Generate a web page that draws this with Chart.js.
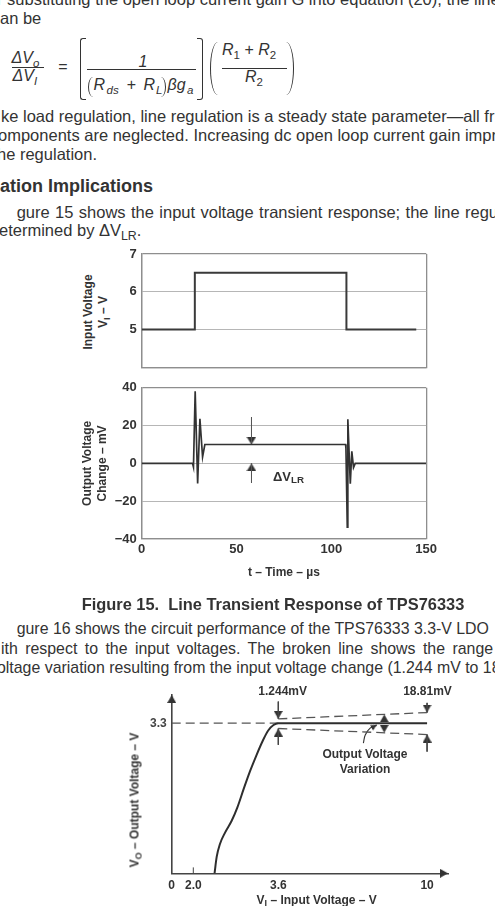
<!DOCTYPE html>
<html>
<head>
<meta charset="utf-8">
<script src="https://cdn.jsdelivr.net/npm/chart.js@4.4.1/dist/chart.umd.min.js"></script>
<style>
body { margin: 0; background: #fff; }
#page { position: relative; width: 495px; height: 906px; overflow: hidden; background: #fff; color: #333; font-family: 'Liberation Sans', Arial, sans-serif; }
.ln { position: absolute; white-space: nowrap; font-size: 16.5px; line-height: 18.4px; }
.low { font-size: 15.9px; }
.eq { position: absolute; white-space: nowrap; font-size: 16px; line-height: 16px; font-style: italic; }
.eq sub { font-size: 11.5px; vertical-align: -3.5px; line-height: 0; }
.eq .up { font-style: normal; }
.bar { position: absolute; height: 1.2px; background: #333; }
.brk { position: absolute; border: 1.5px solid #333; }
.lab { position: absolute; white-space: nowrap; font-weight: bold; font-size: 12px; line-height: 15px; text-align: center; transform: translate(-50%, -50%); }
.rot { transform: translate(-50%, -50%) rotate(-90deg); }
.lab sub, .ln sub { font-size: 0.75em; vertical-align: -0.3em; line-height: 0; }
canvas { position: absolute; }
</style>
</head>
<body>
<div id="page">
  <div class="ln" style="left:-3px;top:-9.9px">r substituting the open loop current gain G into equation (20), the line re</div>
  <div class="ln" style="left:0px;top:9.1px">an be</div>

  <!-- equation -->
  <div class="eq" style="left:11.5px;top:49.8px">ΔV<sub>o</sub></div>
  <div class="bar" style="left:12px;top:67px;width:32px"></div>
  <div class="eq" style="left:12.5px;top:68.2px">ΔV<sub>I</sub></div>
  <div class="eq up" style="left:58px;top:58.5px">=</div>
  <div class="brk" style="left:80px;top:38px;width:5px;height:60px;border-right:none;border-radius:3px 0 0 3px"></div>
  <div class="eq up" style="left:138.5px;top:53.5px">1</div>
  <div class="bar" style="left:87px;top:68.5px;width:109px"></div>
  <div class="brk" style="left:88px;top:77px;width:4px;height:20px;border-width:0 0 0 1.3px;border-radius:5px 0 0 5px / 10px 0 0 10px"></div>
  <div class="eq" style="left:93.5px;top:76.5px">R</div>
  <div class="eq" style="left:106.5px;top:76.5px"><sub>ds</sub></div>
  <div class="eq up" style="left:126.5px;top:76.5px">+</div>
  <div class="eq" style="left:143.5px;top:76.5px">R</div>
  <div class="eq" style="left:156px;top:76.5px"><sub>L</sub></div>
  <div class="brk" style="left:161px;top:77px;width:4px;height:20px;border-width:0 1.3px 0 0;border-radius:0 5px 5px 0 / 0 10px 10px 0"></div>
  <div class="eq" style="left:167.5px;top:76.5px">βg</div>
  <div class="eq" style="left:187px;top:76.5px"><sub>a</sub></div>
  <div class="brk" style="left:197px;top:38px;width:5px;height:60px;border-left:none;border-radius:0 3px 3px 0"></div>
  <div class="brk" style="left:210px;top:42px;width:7px;height:53px;border-width:0 0 0 1.5px;border-radius:8px 0 0 8px / 27px 0 0 27px"></div>
  <div class="eq" style="left:222px;top:41.5px">R<sub class="up">1</sub> <span class="up">+</span> R<sub class="up">2</sub></div>
  <div class="bar" style="left:222px;top:68px;width:65px"></div>
  <div class="eq" style="left:245px;top:68.5px">R<sub class="up">2</sub></div>
  <div class="brk" style="left:286px;top:42px;width:7px;height:53px;border-width:0 1.5px 0 0;border-radius:0 8px 8px 0 / 0 27px 27px 0"></div>

  <div class="ln" style="left:1px;top:106.8px">ke load regulation, line regulation is a steady state parameter—all fr</div>
  <div class="ln" style="left:-2px;top:125.8px">omponents are neglected. Increasing dc open loop current gain impr</div>
  <div class="ln" style="left:-3px;top:145.1px">he regulation.</div>
  <div class="ln" style="left:0px;top:176.4px;font-size:18px;line-height:20.1px;font-weight:bold">ation Implications</div>
  <div class="ln" style="left:16.7px;top:203.4px;word-spacing:0.8px">gure 15 shows the input voltage transient response; the line regu</div>
  <div class="ln" style="left:-1px;top:220.8px">etermined by ΔV<sub>LR</sub>.</div>

  <div class="lab rot" style="left:95.5px;top:312px">Input Voltage<br>V<sub>I</sub> – V</div>
  <canvas id="c1" width="380" height="140" style="left:60px;top:240px"></canvas>
  <canvas id="c2" width="380" height="210" style="left:60px;top:375px"></canvas>
  <div class="lab" style="left:273px;top:476px;transform:translate(0,-50%);font-size:13px">ΔV<sub>LR</sub></div>

  <div class="ln" style="left:273px;top:594.5px;font-size:16.4px;line-height:18.3px;font-weight:bold;transform:translateX(-50%)">Figure 15.&nbsp; Line Transient Response of TPS76333</div>

  <div class="ln low" style="left:16.7px;top:620.3px">gure 16 shows the circuit performance of the TPS76333 3.3-V LDO</div>
  <div class="ln low" style="left:1px;top:639.6px;word-spacing:3px">ith respect to the input voltages. The broken line shows the range</div>
  <div class="ln low" style="left:-3px;top:658.6px">oltage variation resulting from the input voltage change (1.244 mV to 18</div>

  <canvas id="c3" width="340" height="220" style="left:120px;top:680px"></canvas>
  <div class="lab" style="left:282.7px;top:690.7px">1.244mV</div>
  <div class="lab" style="left:427.5px;top:690.7px">18.81mV</div>
  <div class="lab" style="left:365px;top:761.5px">Output Voltage<br>Variation</div>
  <div class="lab rot" style="left:135px;top:800px">V<sub>O</sub> – Output Voltage – V</div>
  <div class="lab" style="left:316.7px;top:900px">V<sub>I</sub> – Input Voltage – V</div>
</div>

<script>
// Figure 15, top panel: input voltage step (V) vs time (us)
const tIn = [0, 28, 28, 107.9, 107.9, 144.7]
const vIn = [5, 5, 6.5, 6.5, 5, 5]
const vInTicks = [5, 6, 7]

// Figure 15, bottom panel: output voltage change (mV) vs time (us)
const tOut = [0, 26.8, 27.3, 28.2, 29.5, 30.7, 32.1, 33.3, 107.5, 107.7, 108.4, 108.7, 110.0, 110.8, 111.7, 112.6, 150]
const vOut = [0, 0, -2, 38.1, -10.6, 23.6, 3.4, 10, 10, 8, -33.7, 23.4, -10.8, 6.4, -2.2, 0, 0]
const timeTicks = [0, 50, 100, 150]
const vOutTicks = [-40, -20, 0, 20, 40]

// delta V_LR marker (us, mV)
const lrAt = 57.9
const lrStemTop = [24.5, 10]
const lrStemBottom = [0, -10.3]

// Figure 16: output voltage vs input voltage
const viCurve = [2.40, 2.44, 2.50, 2.60, 2.72, 2.83, 2.95, 3.07, 3.19, 3.31, 3.41, 3.51, 3.60, 10]
const voCurve = [0, 0.36, 0.64, 0.90, 1.15, 1.45, 1.86, 2.25, 2.60, 2.92, 3.14, 3.26, 3.30, 3.30]
const viTicks = [0, 2.0, 3.6, 10]
const viTickLabels = ['0', '2.0', '3.6', '10']
const voTicks = [3.3]
const voNominal = 3.3
const bandVi = [3.6, 10]
const bandHigh = [3.395, 3.534]
const bandLow = [3.183, 3.051]
const midArrowVi = 8.16
const leaderVi = [7.26, 7.34, 7.55, 7.84]
const leaderVo = [2.86, 3.04, 3.19, 3.26]

// the drawn input axis is not to scale: value -> share of axis length
const kneeKnots = [[0, 0], [2.0, 0.0782], [3.6, 0.3858], [10.9, 1]]

const ink = '#333'
const frame = '#8e8e8e'
const grid = '#b6b6b6'
Chart.defaults.font.family = "'Liberation Sans', Arial, sans-serif"
Chart.defaults.color = ink

const BaseLinear = Chart.LinearScale || Chart.registry.getScale('linear')
function kneeShare (v) {
  for (let i = 1; i < kneeKnots.length; i++) {
    const a = kneeKnots[i - 1]
    const b = kneeKnots[i]
    if (v <= b[0] || i === kneeKnots.length - 1) {
      return a[1] + (v - a[0]) / (b[0] - a[0]) * (b[1] - a[1])
    }
  }
  return 0
}
class KneeScale extends BaseLinear {
  getPixelForValue (value) {
    if (value === null || value === undefined) return NaN
    return this.getPixelForDecimal(kneeShare(value))
  }

  getValueForPixel (pixel) {
    const d = this.getDecimalForPixel(pixel)
    for (let i = 1; i < kneeKnots.length; i++) {
      const a = kneeKnots[i - 1]
      const b = kneeKnots[i]
      if (d <= b[1] || i === kneeKnots.length - 1) {
        return a[0] + (d - a[1]) / (b[1] - a[1]) * (b[0] - a[0])
      }
    }
    return 0
  }
}
KneeScale.id = 'knee'
KneeScale.defaults = {}
Chart.register(KneeScale)

function xy (xs, ys) { return xs.map((x, i) => ({ x: x, y: ys[i] })) }

function arrowHead (w, h) {
  // tip sits in the middle of the canvas so the point is the tip
  const c = document.createElement('canvas')
  c.width = w
  c.height = 2 * h
  const g = c.getContext('2d')
  g.fillStyle = ink
  g.beginPath()
  g.moveTo(w / 2, h)
  g.lineTo(w, 2 * h)
  g.lineTo(0, 2 * h)
  g.closePath()
  g.fill()
  return c
}
const turn = { up: 0, down: 180, right: 90, tilt: 62 }

function boxGrid (min, max, inner) {
  return ctx => (ctx.tick && (ctx.tick.value === min || ctx.tick.value === max)) ? frame : inner
}
const tickFont = { size: 13, weight: 'bold' }
const base = {
  responsive: false,
  animation: false,
  devicePixelRatio: 1,
  events: [],
  plugins: { legend: { display: false }, tooltip: { enabled: false } }
}

// top panel
new Chart(document.getElementById('c1'), {
  type: 'line',
  data: {
    datasets: [{ data: xy(tIn, vIn), borderColor: '#3a3a3a', borderWidth: 2, pointRadius: 0, tension: 0 }]
  },
  options: Object.assign({}, base, {
    layout: { padding: { left: 0, right: 13.7, top: 14, bottom: 10 } },
    scales: {
      x: {
        type: 'linear', min: 0, max: 150,
        afterBuildTicks: s => { s.ticks = timeTicks.map(v => ({ value: v })) },
        ticks: { display: false },
        grid: { color: boxGrid(0, 150, 'rgba(0,0,0,0)'), drawTicks: false, lineWidth: 1.3 },
        border: { color: frame, width: 1.3 },
        afterFit: s => { s.height = 0 }
      },
      y: {
        min: 4, max: 7,
        afterBuildTicks: s => { s.ticks = [4].concat(vInTicks).map(v => ({ value: v })) },
        ticks: { padding: 5, font: tickFont, color: ink, callback: v => vInTicks.includes(v) ? String(v) : '' },
        grid: { color: boxGrid(4, 7, grid), drawTicks: false, lineWidth: c => (c.tick && (c.tick.value === 4 || c.tick.value === 7)) ? 1.3 : 1 },
        border: { color: frame, width: 1.3 },
        afterFit: s => { s.width = 81.7 }
      }
    }
  })
})

// bottom panel
const lrHead = arrowHead(10, 8)
new Chart(document.getElementById('c2'), {
  type: 'line',
  data: {
    datasets: [
      { data: xy(tOut, vOut), borderColor: '#333', borderWidth: 1.7, pointRadius: 0, tension: 0 },
      {
        data: [{ x: lrAt, y: lrStemTop[0] }, { x: lrAt, y: lrStemTop[1] }, { x: lrAt, y: null },
          { x: lrAt, y: lrStemBottom[0] }, { x: lrAt, y: lrStemBottom[1] }],
        borderColor: '#555', borderWidth: 1, pointRadius: 0
      },
      {
        data: [{ x: lrAt, y: lrStemTop[1] }, { x: lrAt, y: lrStemBottom[0] }],
        showLine: false, pointStyle: lrHead, pointRadius: 4,
        pointRotation: [turn.down, turn.up], clip: false
      }
    ]
  },
  options: Object.assign({}, base, {
    layout: { padding: { left: 0, right: 13.7, top: 9, bottom: 0 } },
    scales: {
      x: {
        type: 'linear', min: 0, max: 150,
        afterBuildTicks: s => { s.ticks = timeTicks.map(v => ({ value: v })) },
        ticks: { padding: 3, font: tickFont, color: ink, maxRotation: 0 },
        grid: { color: boxGrid(0, 150, 'rgba(0,0,0,0)'), drawTicks: false, lineWidth: 1.3 },
        border: { color: frame, width: 1.3 },
        title: { display: true, text: 't – Time – µs', font: { size: 12, weight: 'bold', lineHeight: 1.25 }, color: ink, padding: { top: 0, bottom: 4.5 } },
        afterFit: s => { s.height = 46 }
      },
      y: {
        min: -40, max: 40,
        afterBuildTicks: s => { s.ticks = vOutTicks.map(v => ({ value: v })) },
        ticks: { padding: 5, font: tickFont, color: ink, callback: v => v < 0 ? '−' + Math.abs(v) : String(v) },
        grid: { color: boxGrid(-40, 40, grid), drawTicks: false, lineWidth: c => (c.tick && Math.abs(c.tick.value) === 40) ? 1.3 : 1 },
        border: { color: frame, width: 1.3 },
        title: { display: true, text: ['Output Voltage', 'Change – mV'], font: { size: 12, weight: 'bold', lineHeight: 1.25 }, color: ink, padding: { top: 20.5, bottom: 0 } },
        afterFit: s => { s.width = 81.7 }
      }
    }
  })
})

// Figure 16
const vHead = arrowHead(9, 8)
const small = arrowHead(6, 6)
const midHigh = bandHigh[0] + (midArrowVi - bandVi[0]) / (bandVi[1] - bandVi[0]) * (bandHigh[1] - bandHigh[0])
const midLow = bandLow[0] + (midArrowVi - bandVi[0]) / (bandVi[1] - bandVi[0]) * (bandLow[1] - bandLow[0])
const dashed = { borderColor: '#555', borderWidth: 1.3, borderDash: [9, 5], pointRadius: 0 }
new Chart(document.getElementById('c3'), {
  type: 'line',
  data: {
    datasets: [
      { data: xy(viCurve, voCurve), borderColor: '#2e2e2e', borderWidth: 2, pointRadius: 0, cubicInterpolationMode: 'monotone' },
      Object.assign({ data: [{ x: 0, y: voNominal }, { x: bandVi[0], y: voNominal }] }, dashed),
      Object.assign({ data: xy(bandVi, bandHigh) }, dashed),
      Object.assign({ data: xy(bandVi, bandLow) }, dashed),
      {
        data: [
          { x: bandVi[0], y: 3.776 }, { x: bandVi[0], y: bandHigh[0] }, { x: bandVi[0], y: null },
          { x: bandVi[0], y: bandLow[0] }, { x: bandVi[0], y: 2.823 }, { x: bandVi[0], y: null },
          { x: bandVi[1], y: 3.747 }, { x: bandVi[1], y: bandHigh[1] }, { x: bandVi[1], y: null },
          { x: bandVi[1], y: bandLow[1] }, { x: bandVi[1], y: 2.675 }, { x: bandVi[1], y: null },
          { x: viTicks[1], y: 0 }, { x: viTicks[1], y: 0.13 }
        ],
        borderColor: '#444', borderWidth: 1, pointRadius: 0, clip: false
      },
      { data: xy(leaderVi, leaderVo), borderColor: '#333', borderWidth: 1.1, pointRadius: 0, tension: 0.4 },
      {
        data: [
          { x: bandVi[0], y: bandHigh[0] }, { x: bandVi[0], y: bandLow[0] },
          { x: bandVi[1], y: bandHigh[1] }, { x: bandVi[1], y: bandLow[1] },
          { x: midArrowVi, y: midHigh }, { x: midArrowVi, y: midLow },
          { x: 0, y: 3.92 }, { x: 10.9, y: 0 }
        ],
        showLine: false, pointStyle: vHead, pointRadius: 4, clip: false,
        pointRotation: [turn.down, turn.up, turn.down, turn.up, turn.up, turn.down, turn.up, turn.right]
      },
      {
        data: [{ x: leaderVi[3], y: leaderVo[3] }],
        showLine: false, pointStyle: small, pointRadius: 3, clip: false, pointRotation: turn.tilt
      }
    ]
  },
  options: Object.assign({}, base, {
    layout: { padding: { left: 0, right: 12, top: 15, bottom: 0 } },
    scales: {
      x: {
        type: 'knee', min: 0, max: 10.9,
        afterBuildTicks: s => { s.ticks = viTicks.map(v => ({ value: v })) },
        ticks: { padding: 5, font: { size: 12, weight: 'bold' }, color: ink, autoSkip: false, maxRotation: 0, callback: (v, i) => viTickLabels[i] },
        grid: { display: false, drawTicks: false },
        border: { color: '#444', width: 1.6 },
        afterFit: s => { s.height = 26.7 }
      },
      y: {
        min: 0, max: 3.92,
        afterBuildTicks: s => { s.ticks = voTicks.map(v => ({ value: v })) },
        ticks: { padding: 5, font: { size: 12, weight: 'bold' }, color: '#444', callback: v => v.toFixed(1) },
        grid: { display: false, drawTicks: false },
        border: { color: '#444', width: 1.6 },
        afterFit: s => { s.width = 51.7 }
      }
    }
  })
})
</script>
</body>
</html>
